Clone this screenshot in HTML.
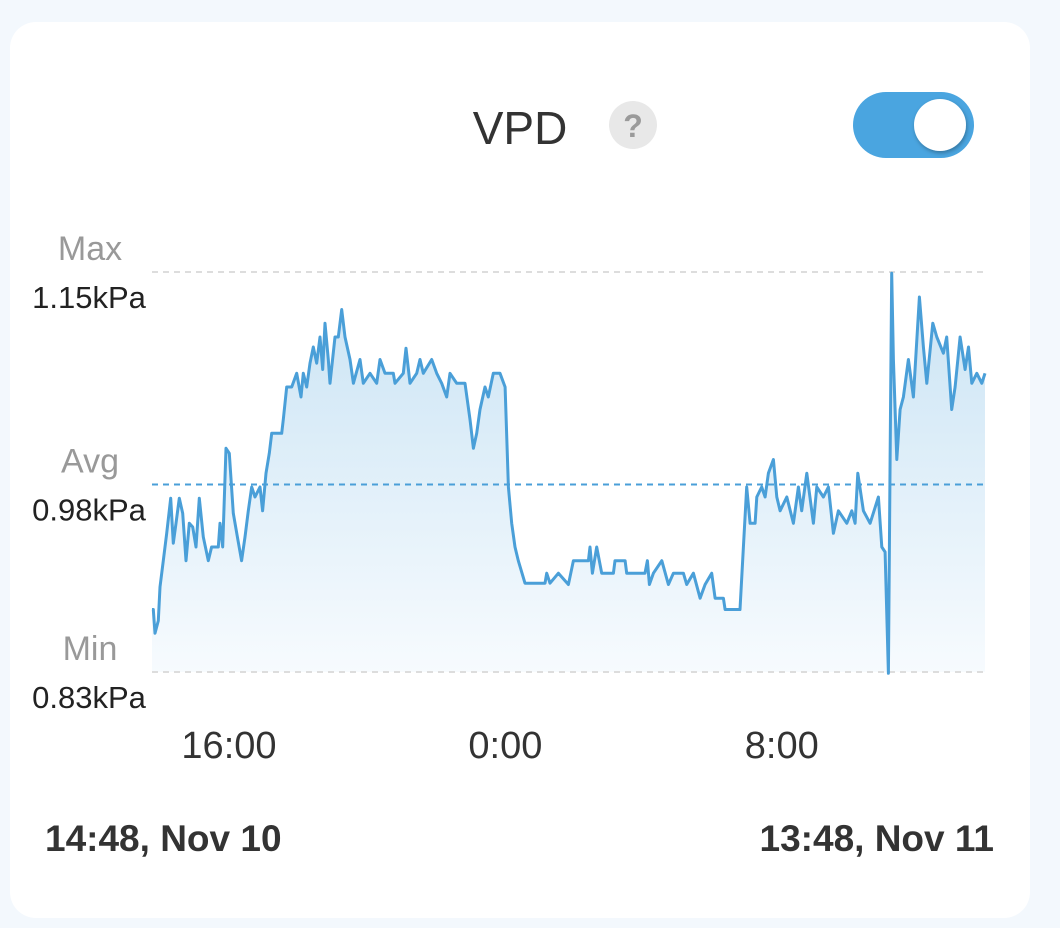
<!DOCTYPE html>
<html><head><meta charset="utf-8">
<style>
html,body{margin:0;padding:0;background:#f3f8fd;width:1060px;height:928px;overflow:hidden;font-family:"Liberation Sans",sans-serif;}
.card{position:absolute;left:10px;top:22px;width:1020px;height:896px;background:#fff;border-radius:26px;}
</style></head><body>
<div class="card"></div>
<svg id="chart" width="1060" height="928" style="position:absolute;left:0;top:0">
  <defs>
    <linearGradient id="fillg" x1="0" y1="0" x2="0" y2="1">
      <stop offset="0" stop-color="#c9e3f4"/>
      <stop offset="1" stop-color="#f7fbfe"/>
    </linearGradient>
    <filter id="sh" x="-50%" y="-50%" width="200%" height="200%"><feDropShadow dx="1" dy="2" stdDeviation="2" flood-color="#000" flood-opacity="0.3"/></filter>
  </defs>
  <text x="520" y="144" font-size="46" fill="#333" text-anchor="middle">VPD</text>
  <g>
    <circle cx="633" cy="125" r="24" fill="#e8e8e8"/>
    <text x="633" y="137" font-size="32" font-weight="bold" fill="#9a9a9a" text-anchor="middle">?</text>
  </g>
  <g>
    <rect x="853" y="92" width="121" height="66" rx="33" fill="#4aa5e0"/>
    <circle cx="940" cy="125" r="26" fill="#fff" filter="url(#sh)"/>
  </g>
  <g id="marks"></g>
  <g id="labels"></g>
  <text x="45" y="851" font-size="37" font-weight="bold" fill="#333">14:48, Nov 10</text>
  <text x="994" y="851" font-size="37" font-weight="bold" fill="#333" text-anchor="end">13:48, Nov 11</text>
</svg>
<script>
// minutes since 14:48 Nov 10
const times = [0,2.2,5,10.5,13.2,18.8,24.3,30.9,35.3,39.7,45.3,50.8,56.3,61.8,67.4,72.9,78.4,85,93.3,98.8,109.9,112.7,117.1,122.6,128.1,134.7,141.4,148.5,154.1,159.6,165.1,170.6,178.9,183.3,188.9,194.4,198.3,214.8,217.6,223.1,231.4,239.7,246.9,250.7,256.3,261.8,267.3,272.8,278.3,282.8,286.6,292.1,294.9,303.2,308.7,314.2,319.8,328,333.6,344.6,350.1,361.2,372.2,377.8,386,399.8,402.6,416.4,420.8,427.5,438.5,444,449.5,463.4,471.6,479.9,488.2,493.7,504.8,518.6,526.9,532.4,537.9,543.4,551.7,557.2,565.5,576.6,584.9,590.4,595.9,601.4,606.9,618,651.1,653.9,659.4,673.2,
689.8,698.1,722.9,725.7,729.6,736.8,745,764.4,767.1,783.7,786.5,816.8,820.7,824,830.6,844.5,855.5,863.8,880.4,885.9,896.9,908,916.3,927.3,932.8,946.6,949.4,974.2,979.8,985.3,990.8,999.1,1001.9,1010.1,1015.7,1021.2,1029.5,1035,1040.5,1051.6,1062.6,1070.9,1076.4,1084.7,1095.7,1101.3,1112.3,1120.6,1128.9,1137.2,1151,1159.3,1164.8,1169.2,1178.6,1189.6,1203.4,1209,1214.5,1220,1222.8,1225.5,1228.3,1233.8,1239.3,1244.8,1253.1,1261.4,1271.4,1278,1283.5,1293.5,1300.1,1311.1,1316.6,1324.9,1330.5,1338.8,1347.1,1352.6,1358.1,1366.4,1374.7,1380];
const values = [0.88,0.88,0.861,0.871,0.898,0.919,0.941,0.969,0.933,0.949,0.969,0.957,0.919,0.949,0.946,0.930,0.969,0.938,0.919,0.930,0.930,0.949,0.930,1.009,1.005,0.957,0.938,0.919,0.938,0.959,0.978,0.970,0.978,0.959,0.989,1.005,1.021,1.021,1.032,1.058,1.058,1.069,1.050,1.069,1.058,1.077,1.090,1.077,1.098,1.072,1.109,1.080,1.061,1.098,1.098,1.120,1.098,1.080,1.061,1.080,1.061,1.069,1.061,1.080,1.069,1.069,1.061,1.069,1.089,1.061,1.069,1.080,1.069,1.080,1.069,1.061,1.050,1.069,1.061,1.061,1.032,1.009,1.021,1.040,1.058,1.050,1.069,1.069,1.058,0.978,0.949,0.930,0.919,0.901,0.901,0.909,0.901,0.909,
0.900,0.919,0.919,0.930,0.909,0.930,0.909,0.909,0.919,0.919,0.909,0.909,0.919,0.900,0.909,0.919,0.900,0.909,0.909,0.900,0.909,0.889,0.900,0.909,0.889,0.889,0.880,0.880,0.930,0.978,0.949,0.949,0.970,0.978,0.970,0.989,1.000,0.970,0.959,0.970,0.949,0.978,0.959,0.989,0.949,0.978,0.970,0.978,0.941,0.959,0.949,0.959,0.949,0.989,0.959,0.949,0.970,0.930,0.926,0.829,1.000,1.149,1.080,1.000,1.040,1.050,1.080,1.050,1.130,1.090,1.061,1.109,1.098,1.085,1.098,1.040,1.058,1.098,1.072,1.090,1.061,1.069,1.061,1.069,1.069];
const yTicks = [1.15,0.98,0.83];
const yTickNames = ["Max","Avg","Min"];
const xTickTimes = [72,552,1032];
const xTickLabels = ["16:00","0:00","8:00"];
const TOTAL=1380, VMIN=0.83, VMAX=1.15;
const X0=152, X1=985, YT=272, YB=672;
function xs(t){return X0+(t/TOTAL)*(X1-X0);}
function ys(v){return YB-(v-VMIN)/(VMAX-VMIN)*(YB-YT);}
const NS="http://www.w3.org/2000/svg";
const marks=document.getElementById('marks'), labels=document.getElementById('labels');
function mk(tag,attrs,parent){const e=document.createElementNS(NS,tag);for(const k in attrs)e.setAttribute(k,attrs[k]);parent.appendChild(e);return e;}
let pts=times.map((t,i)=>xs(t).toFixed(1)+','+ys(values[i]).toFixed(1));
const area=mk('path',{d:'M'+xs(0)+','+YB+' L'+pts.join(' L')+' L'+xs(TOTAL)+','+YB+' Z',fill:'url(#fillg)'},marks);


yTicks.forEach((v,i)=>{
  const ln=mk('line',{x1:X0,x2:X1,y1:ys(v),y2:ys(v),stroke:i==1?'#4a9fd8':'#dddddd','stroke-width':2,'stroke-dasharray':'6,5'},marks);
  
  
  const t1=mk('text',{x:90,y:ys(v)-12,'font-size':34,fill:'#999','text-anchor':'middle'},labels);
  t1.textContent=yTickNames[i];
  
  
  const t2=mk('text',{x:89,y:ys(v)+36,'font-size':31,fill:'#222','text-anchor':'middle'},labels);
  t2.textContent=v.toFixed(2)+'kPa';
  
  
});
const line=mk('polyline',{points:pts.join(' '),fill:'none',stroke:'#4a9fd8','stroke-width':3,'stroke-linejoin':'round'},marks);


xTickTimes.forEach((t,i)=>{
  const tx=mk('text',{x:42.5+0.954*xs(t),y:758,'font-size':38,fill:'#333','text-anchor':'middle'},labels);
  tx.textContent=xTickLabels[i];
  
  
});
</script>
</body></html>
